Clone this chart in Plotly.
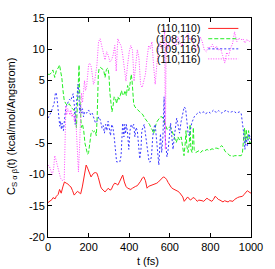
import plotly.graph_objects as go

# ---------------- data ----------------
t_red = [0, 10, 20, 25, 35, 41, 50, 57, 65, 73, 81, 90, 97, 105, 113, 121, 129, 137, 145, 153, 161, 169, 177, 183, 188, 195, 201, 207, 212, 218, 225, 233, 241, 248, 254, 260, 265, 273, 281, 289, 297, 305, 312, 320, 328, 336, 344, 352, 360, 368, 376, 384, 392, 400, 408, 416, 424, 432, 440, 448, 456, 464, 472, 480, 488, 496, 504, 512, 520, 528, 536, 544, 552, 560, 568, 576, 584, 592, 600, 608, 616, 624, 632, 640, 648, 656, 664, 671, 679, 688, 695, 703, 711, 719, 727, 735, 743, 751, 759, 767, 775, 783, 791, 799, 807, 815, 823, 831, 839, 847, 855, 862, 870, 879, 887, 895, 903, 911, 919, 927, 934, 942, 950, 958, 966, 974, 982, 990, 1000]
v_red = [-14.5, -14.3, -14.0, -13.7, -13.9, -13.5, -13.2, -12.4, -13.0, -12.0, -11.2, -11.4, -11.5, -11.8, -12.0, -12.6, -13.3, -13.0, -12.7, -12.9, -13.1, -12.0, -10.3, -9.0, -8.5, -9.0, -9.4, -10.0, -10.4, -10.1, -9.8, -9.7, -9.8, -10.5, -11.4, -12.0, -12.3, -12.6, -12.8, -12.5, -12.2, -12.5, -12.4, -11.8, -11.4, -11.5, -11.7, -11.2, -10.6, -10.1, -11.2, -11.9, -12.2, -12.3, -12.4, -12.2, -12.0, -11.9, -11.8, -11.5, -11.1, -10.6, -10.4, -11.0, -12.2, -11.9, -11.8, -11.7, -11.7, -11.5, -11.4, -11.2, -10.9, -10.6, -10.4, -10.5, -10.8, -11.3, -11.8, -12.1, -12.3, -12.4, -12.5, -12.7, -12.9, -13.2, -13.6, -14.3, -13.9, -13.6, -13.9, -14.1, -13.8, -13.7, -14.0, -14.3, -14.1, -14.1, -14.2, -14.3, -14.0, -13.8, -14.0, -14.2, -14.3, -14.0, -13.5, -13.7, -14.0, -14.1, -14.3, -14.4, -14.2, -14.3, -14.4, -14.2, -14.3, -14.3, -14.0, -13.8, -13.7, -13.6, -13.5, -13.5, -13.2, -12.8, -12.6, -12.8, -13.0]

t_green = [0, 8, 16, 24, 33, 42, 50, 57, 62, 68, 74, 80, 88, 96, 104, 112, 120, 128, 135, 140, 145, 150, 153, 156, 160, 164, 170, 176, 182, 188, 195, 200, 206, 212, 218, 225, 232, 238, 242, 245, 248, 252, 258, 266, 274, 281, 288, 295, 300, 305, 310, 315, 320, 326, 332, 338, 344, 350, 356, 362, 368, 374, 380, 386, 392, 398, 404, 410, 414, 418, 422, 428, 436, 444, 452, 460, 468, 476, 484, 492, 500, 508, 514, 520, 526, 532, 538, 546, 554, 562, 570, 578, 586, 594, 600, 608, 616, 624, 632, 640, 648, 656, 664, 670, 676, 680, 684, 690, 696, 700, 704, 710, 716, 720, 728, 736, 744, 752, 760, 768, 776, 784, 792, 800, 808, 816, 824, 832, 840, 848, 856, 864, 872, 880, 888, 896, 904, 912, 920, 928, 936, 944, 952, 958, 964, 968, 972, 976, 982, 988, 994, 1000]
v_green = [6.0, 6.0, 6.2, 6.7, 5.5, 6.7, 7.0, 7.5, 6.5, 5.5, 3.4, 1.8, 1.3, 1.0, 1.3, 0.8, 0.5, 0.3, -0.5, -2.5, 1.0, 5.5, 7.5, 3.0, -1.0, -2.5, -2.0, -3.0, -5.0, -6.0, -6.8, -6.5, -5.0, -3.5, -3.0, -3.2, -3.0, -3.8, -1.0, 3.0, 6.0, 7.0, 7.1, 6.9, 6.7, 5.5, 6.8, 7.0, 6.0, 3.0, 1.0, 0.0, 0.8, 2.4, 2.2, 1.3, 2.4, 2.0, 2.6, 3.4, 2.6, 2.8, 3.4, 2.6, 4.2, 3.4, 4.4, 6.0, 5.0, 3.0, 1.3, 0.8, 0.5, 0.2, 0.0, -0.2, -0.5, -1.0, -1.3, -1.6, -2.0, -2.6, -2.9, -3.5, -2.6, -2.0, -1.5, -1.2, -0.8, -0.8, -1.2, -2.0, -2.8, -2.6, -2.4, -2.8, -3.5, -4.5, -4.9, -4.0, -4.5, -4.0, -6.0, -7.0, -5.0, -3.0, -5.5, -6.5, -5.0, -2.0, -6.0, -6.5, -2.5, -6.0, -6.5, -6.3, -6.2, -6.5, -6.2, -6.3, -6.2, -6.0, -6.2, -6.0, -5.9, -6.0, -5.8, -5.8, -5.9, -5.6, -5.4, -5.7, -6.3, -6.5, -6.8, -7.0, -7.0, -7.1, -7.0, -7.0, -7.0, -7.1, -7.0, -6.5, -4.0, -2.6, -5.0, -2.8, -4.5, -3.0, -5.0, -4.9]

t_blue = [0, 8, 16, 24, 30, 36, 40, 45, 52, 58, 62, 66, 70, 76, 82, 88, 94, 100, 106, 112, 118, 124, 130, 134, 138, 142, 148, 152, 156, 160, 165, 170, 175, 180, 190, 200, 210, 218, 226, 234, 242, 250, 258, 266, 272, 278, 284, 290, 296, 302, 308, 314, 320, 326, 332, 338, 346, 354, 360, 364, 368, 374, 378, 382, 386, 392, 398, 404, 410, 416, 422, 428, 434, 440, 446, 452, 458, 462, 468, 474, 480, 486, 492, 498, 504, 510, 516, 522, 528, 534, 540, 546, 550, 554, 560, 566, 572, 575, 580, 586, 592, 598, 604, 610, 616, 622, 628, 634, 640, 648, 656, 664, 671, 678, 684, 690, 696, 702, 708, 714, 720, 728, 736, 744, 752, 760, 768, 776, 784, 792, 800, 808, 816, 824, 832, 840, 848, 856, 864, 872, 880, 888, 896, 904, 912, 920, 928, 936, 944, 952, 958, 964, 970, 976, 982, 990, 1000]
v_blue = [-1.0, -0.5, 0.0, 0.8, 1.3, 2.9, 3.1, 2.0, -0.8, -2.3, -1.5, -2.8, -1.8, -3.0, -1.0, 0.8, 1.2, 1.6, 2.0, 1.8, 2.5, 2.9, 1.0, -2.0, 0.5, 3.0, 4.4, 3.0, -0.2, 1.0, -0.2, 0.5, -0.8, 0.0, -0.2, 0.3, -0.5, -0.2, -1.0, -1.8, -1.5, -0.8, -1.3, -2.6, -2.2, -3.4, -2.0, -3.0, -1.5, -2.5, -3.8, -2.0, -2.5, -4.0, -6.5, -8.0, -8.0, -8.0, -7.0, -3.0, -1.8, -4.0, -2.0, -3.5, -2.0, -3.4, -6.0, -3.0, -2.0, -2.5, -2.0, -4.0, -2.5, -3.0, -5.5, -7.5, -6.0, -3.0, -2.5, -2.0, -3.5, -5.0, -7.0, -8.0, -8.0, -7.0, -4.0, -2.5, -2.0, -4.0, -7.0, -8.5, -6.0, -3.5, -6.5, -4.0, 2.4, -3.0, -5.0, -7.2, -6.0, -3.0, -1.8, -4.0, -6.0, -4.0, -2.0, -1.0, -2.0, -3.4, -1.5, -0.2, 0.8, 0.5, -2.3, -3.4, -3.8, -2.6, -1.8, -1.3, -0.8, -0.5, -0.2, 0.0, -0.2, -0.1, 0.0, -0.3, -0.1, 0.0, -0.2, 0.1, 0.3, 0.0, -0.1, 0.2, 0.0, -0.2, 0.0, 0.2, 0.3, 0.0, -0.1, 0.0, 0.1, 0.0, -0.2, -0.1, 0.0, -0.3, -1.5, -3.4, -6.0, -4.0, -5.5, -3.5, -4.5]

t_pink = [0, 8, 15, 22, 28, 33, 38, 45, 52, 57, 62, 68, 75, 80, 83, 85, 88, 92, 97, 102, 108, 113, 118, 124, 130, 136, 140, 145, 150, 155, 160, 165, 170, 175, 180, 185, 190, 195, 200, 205, 212, 218, 224, 230, 236, 241, 249, 257, 265, 273, 281, 289, 297, 305, 313, 321, 329, 336, 344, 352, 360, 368, 377, 384, 392, 400, 408, 416, 420, 424, 432, 440, 448, 456, 464, 472, 480, 488, 496, 504, 512, 520, 528, 536, 544, 552, 560, 568, 575, 578, 582, 590, 600, 610, 620, 630, 640, 650, 660, 670, 680, 690, 700, 710, 720, 730, 740, 750, 760, 770, 780, 790, 800, 810, 820, 830, 840, 850, 860, 871, 880, 890, 900, 910, 919, 930, 940, 950, 960, 970, 980, 990, 1000]
v_pink = [-8.5, -8.8, -9.5, -10.0, -9.0, -7.0, -7.5, -8.5, -9.2, -9.8, -10.6, -10.9, -11.0, -10.8, -5.0, -1.0, 1.0, -0.5, 0.5, 0.2, -0.5, 0.3, -0.8, -0.3, -1.5, -0.5, -3.0, -6.0, -9.6, -6.0, 0.5, 3.0, 1.5, 4.0, 5.0, 3.4, 4.0, 5.7, 7.5, 7.8, 7.3, 6.0, 4.4, 4.9, 6.5, 7.5, 11.2, 11.7, 10.5, 9.6, 8.3, 9.6, 9.0, 8.0, 8.3, 9.1, 10.6, 6.5, 11.7, 11.0, 10.6, 9.1, 6.2, 4.9, 7.5, 9.6, 10.6, 9.9, 7.5, 4.9, 7.5, 9.9, 8.6, 4.4, 3.9, 5.0, 6.0, 8.6, 10.6, 10.1, 11.2, 7.5, 4.4, 7.5, 10.1, 11.2, 10.1, 10.6, 13.2, -6.0, 11.0, 10.0, 11.5, 12.0, 11.0, 10.5, 12.0, 11.0, 10.5, 11.5, 12.0, 12.5, 11.5, 12.0, 10.5, 9.8, 10.5, 12.0, 11.2, 9.9, 9.6, 10.4, 10.2, 10.8, 10.0, 10.5, 9.8, 10.2, 9.0, 7.8, 9.5, 9.0, 10.2, 11.0, 12.8, 11.2, 11.8, 11.5, 11.7, 11.0, 11.6, 11.2, 11.4]

series_names = ["(110,110)", "(108,116)", "(109,116)", "(110,116)"]
x_ticks = [0, 200, 400, 600, 800, 1000]
y_ticks = [-20, -15, -10, -5, 0, 5, 10, 15]

# ---------------- styles ----------------
colors = ["#ff2020", "#22ee22", "#3a3aff", "#ff44ff"]
dashes = ["solid", "4px,2px", "2px,2px", "1px,1.5px"]

FONT = "Liberation Sans, Arial, Helvetica, sans-serif"

fig = go.Figure()
data = [(t_red, v_red), (t_green, v_green), (t_blue, v_blue), (t_pink, v_pink)]
for (tt, vv), name, c, d in zip(data, series_names, colors, dashes):
    fig.add_trace(go.Scatter(x=tt, y=vv, mode="lines", name=name, showlegend=False,
                             line=dict(color=c, width=1, dash=d)))

# plot-area geometry in pixels
W, H = 275, 269
L, R, T, B = 48, 257, 12, 237
pw, ph = R - L, B - T

def px2paper(px, py):
    return (px - L) / pw, (B - py) / ph

# gnuplot-style key: right-justified text followed by line sample
rows_y = [22.7, 33.3, 43.7, 54.0]
for name, c, d, ry in zip(series_names, colors, dashes, rows_y):
    xt, yt = px2paper(207, ry)
    fig.add_annotation(x=xt, y=yt, xref="paper", yref="paper", text=name, showarrow=False,
                       xanchor="right", yanchor="middle",
                       font=dict(family=FONT, size=10.5, color="black"))
    x0, y0 = px2paper(213, ry)
    x1, _ = px2paper(244, ry)
    fig.add_shape(type="line", xref="paper", yref="paper", x0=x0, x1=x1, y0=y0, y1=y0,
                  line=dict(color=c, width=1, dash=d))

# y-axis title
fig.add_annotation(x=px2paper(11, 0)[0], y=px2paper(0, 124)[1], xref="paper", yref="paper",
                   text="C<sub>S α β</sub>(t) (kcal/mol/Angstrom)", textangle=-90, showarrow=False,
                   xanchor="center", yanchor="middle", font=dict(family=FONT, size=11, color="black"))
# x-axis title
fig.add_annotation(x=px2paper(151, 0)[0], y=px2paper(0, 262)[1], xref="paper", yref="paper",
                   text="t (fs)", showarrow=False, xanchor="center", yanchor="middle",
                   font=dict(family=FONT, size=11, color="black"))

axis_common = dict(showgrid=False, zeroline=False, showline=True, linecolor="black", linewidth=1,
                   mirror="allticks", ticks="inside", ticklen=4, tickcolor="black", tickwidth=1,
                   tickfont=dict(family=FONT, size=11, color="black"))
fig.update_xaxes(range=[0, 1000], tickvals=x_ticks, ticktext=[str(v) for v in x_ticks], **axis_common)
fig.update_yaxes(range=[-20, 15], tickvals=y_ticks, ticktext=[str(v) for v in y_ticks], **axis_common)

fig.update_layout(width=W, height=H, margin=dict(l=L, r=W - R, t=T, b=H - B),
                  paper_bgcolor="white", plot_bgcolor="white", showlegend=False,
                  font=dict(family=FONT, size=11, color="black"))

fig.write_html("out.html", config={"displayModeBar": False, "staticPlot": True},
               post_script="document.body.style.margin='0';document.body.style.padding='0';document.body.style.overflow='hidden';")
